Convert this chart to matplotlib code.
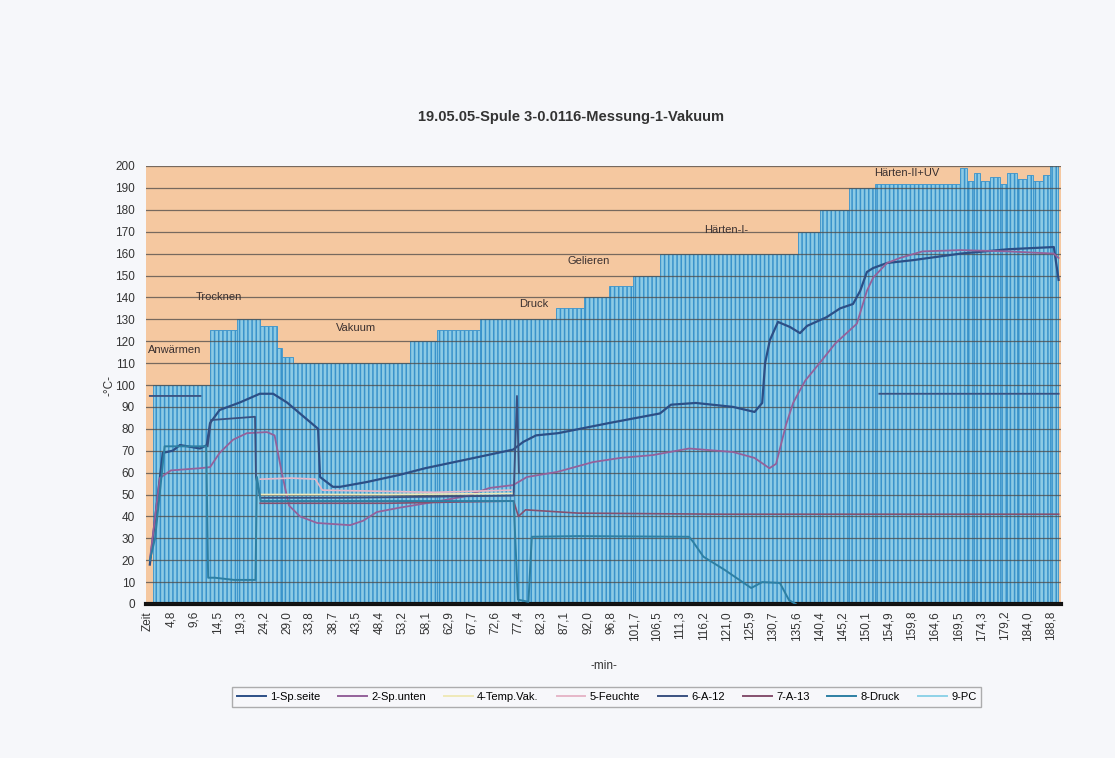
import matplotlib.pyplot as plt
import numpy as np
from matplotlib.lines import Line2D

plt.rcParams['font.family'] = ['Liberation Sans', 'DejaVu Sans']
plt.rcParams['hatch.color'] = '#3a93cb'
plt.rcParams['hatch.linewidth'] = 1.1

# 9-PC set point: start / end of each step (min) and its level (degC)
pc_start = [1.0, 13.0, 18.6, 23.4, 27.0, 28.0, 30.3, 54.8, 60.5, 69.5, 85.4, 91.2, 96.4,
            101.5, 107.1, 136.0, 140.6, 146.7, 152.0, 169.9, 171.3, 172.7, 174.1, 176.2,
            178.2, 179.6, 181.7, 183.8, 185.2, 187.3, 188.7]
pc_end = [13.0, 18.6, 23.4, 27.0, 28.0, 30.3, 54.8, 60.5, 69.5, 85.4, 91.2, 96.4, 101.5,
          107.1, 136.0, 140.6, 146.7, 152.0, 169.9, 171.3, 172.7, 174.1, 176.2, 178.2,
          179.6, 181.7, 183.8, 185.2, 187.3, 188.7, 190.3]
pc_level = [100, 125, 130, 127, 117, 113, 110, 120, 125, 130, 135, 140, 145,
            150, 160, 170, 180, 190, 192, 199, 193, 197, 193, 195,
            192, 197, 194, 196, 193, 196, 201]

# 1-Sp.seite
t1 = [0.4, 3.1, 5.2, 6.7, 10.9, 12.3, 13.0, 15.0, 19.2, 23.4, 26.2, 29.1, 31.8, 35.6, 36.0,
      38.7, 40.2, 45.8, 52.7, 58.0, 66.7, 76.4, 78.5, 81.2, 85.8, 96.4, 107.1, 109.4, 114.6,
      122.4, 126.9, 128.5, 129.1, 130.1, 131.8, 134.3, 136.4, 137.9, 142.0, 144.8, 147.5,
      149.0, 150.4, 151.7, 154.6, 160.0, 170.0, 180.0, 189.5, 190.5]
v1 = [18, 69, 70, 72.6, 71, 72.5, 82.6, 88.6, 92, 96, 96, 92, 87, 80, 58,
      53.5, 53.5, 55.7, 59, 62, 66, 70.5, 74, 77, 78, 82.6, 87, 91, 91.8,
      90, 87.7, 91.8, 110, 120.5, 128.8, 126.5, 123.7, 127, 131, 135, 137,
      143, 151.6, 153.4, 155.7, 157, 160, 162, 163, 148]

# 2-Sp.unten
t2 = [0.4, 2.5, 4.8, 10.9, 13.0, 15.0, 17.8, 20.7, 24.9, 26.5, 28.0, 29.5, 31.8, 35.4,
      42.3, 45.0, 47.9, 52.7, 59.6, 66.0, 71.5, 76.4, 79.3, 85.6, 93.1, 98.8, 105.6, 113.2,
      122.4, 126.9, 130.0, 131.4, 133.5, 135.0, 137.5, 140.5, 143.8, 148.3, 150.4, 151.7,
      154.6, 157.3, 162.0, 170.0, 180.0, 189.5, 190.5]
v2 = [20, 57.5, 61, 62, 62.5, 69, 75, 78, 78.5, 77, 60, 45, 40, 37,
      36, 38, 42, 44, 46.5, 49, 53, 54.3, 58, 60.3, 64.8, 66.7, 68, 71,
      69.4, 66.7, 62, 64, 82, 92, 102, 110, 119, 128, 143, 149,
      155.7, 158, 161, 161.6, 161, 160, 158]

# 4-Temp.Vak.
t4 = [23.5, 50.0, 76.5]
v4 = [50, 50, 50.5]

# 5-Feuchte
t5 = [23.5, 30.0, 35.0, 36.5, 60.0, 76.0]
v5 = [57, 57.5, 57, 52, 51, 52]

# 6-A-12 (gap between runs marked with nan)
t6 = [0.4, 11.0, 11.2, 12.5, 13.2, 22.4, 22.6, 23.5, 40.0, 60.0, 76.5, 77.2, 77.6, 77.8,
      153.0, 190.5]
v6 = [95, 95, np.nan, 72, 84, 85.5, 58, 48.5, 48.5, 49, 49.5, 95, 60, np.nan,
      96, 96]

# 7-A-13
t7 = [23.5, 50.0, 76.5, 77.5, 79.0, 90.0, 120.0, 190.5]
v7 = [46, 46, 47, 40, 43, 41.5, 41, 41]

# 8-Druck
t8 = [0.4, 1.5, 3.5, 12.2, 12.6, 14.0, 18.0, 22.5, 22.8, 23.6, 30.0, 50.0, 76.5, 77.4,
      79.6, 80.3, 90.0, 113.2, 114.0, 116.2, 120.7, 126.2, 128.5, 132.2, 134.1, 135.5]
v8 = [20, 30, 72, 72, 12, 12, 11, 11, 58, 47, 47, 47, 47, 2,
      1, 30.7, 31, 30.7, 28.5, 21.6, 15.5, 7.3, 10, 9.6, 1.8, 0]

series = [
    ('1-Sp.seite', t1, v1, '#2c4f86', 1.6),
    ('2-Sp.unten', t2, v2, '#94619a', 1.3),
    ('4-Temp.Vak.', t4, v4, '#efe9b8', 1.2),
    ('5-Feuchte', t5, v5, '#e6b7c8', 1.2),
    ('6-A-12', t6, v6, '#3a5180', 1.3),
    ('7-A-13', t7, v7, '#85506e', 1.2),
    ('8-Druck', t8, v8, '#2d7fa3', 1.4),
]

tick_labels = ['Zeit', '4,8', '9,6', '14,5', '19,3', '24,2', '29,0', '33,8', '38,7', '43,5',
               '48,4', '53,2', '58,1', '62,9', '67,7', '72,6', '77,4', '82,3', '87,1', '92,0',
               '96,8', '101,7', '106,5', '111,3', '116,2', '121,0', '125,9', '130,7', '135,6',
               '140,4', '145,2', '150,1', '154,9', '159,8', '164,6', '169,5', '174,3', '179,2',
               '184,0', '188,8']
tick_pos = [0.0 if s == 'Zeit' else float(s.replace(',', '.')) for s in tick_labels]

stages = ['Anwärmen', 'Trocknen', 'Vakuum', 'Druck', 'Gelieren', 'Härten-I-', 'Härten-II+UV']
stage_t = [5.5, 14.8, 43.5, 80.8, 92.3, 121.0, 158.8]
stage_y = [116, 140, 126, 137, 156.5, 171, 197]

fig = plt.figure(figsize=(11.15, 7.58), dpi=100, facecolor='#f6f7fa')
ax = fig.add_axes([146 / 1115, 1 - 604 / 758, 915 / 1115, 438 / 758])
ax.set_facecolor('#f5c8a0')

widths = np.array(pc_end) - np.array(pc_start)
ax.bar(pc_start, pc_level, width=widths, align='edge', color='#8dcbe5',
       edgecolor='#3a93cb', linewidth=0.6, hatch='||||', zorder=2)

for name, t, v, c, lw in series:
    ax.plot(t, v, color=c, lw=lw, zorder=3)

for s, x, y in zip(stages, stage_t, stage_y):
    ax.text(x, y, s, ha='center', va='center', fontsize=8, color='#3a3030', zorder=4)

ax.set_xlim(-0.4, 191.0)
ax.set_ylim(0, 200)
ax.set_yticks(range(0, 201, 10))
ax.set_xticks(tick_pos, tick_labels, rotation=90, fontsize=8.5)
ax.tick_params(axis='y', labelsize=8.5, length=0, pad=8, colors='#333333')
ax.tick_params(axis='x', length=0, pad=5, colors='#333333')

ax.set_axisbelow(False)
ax.grid(axis='y', color='#4d4a48', lw=0.9, alpha=0.75)
ax.grid(axis='x', visible=False)

for side in ['top', 'right', 'left']:
    ax.spines[side].set_visible(False)
ax.spines['bottom'].set_linewidth(3)
ax.spines['bottom'].set_color('#111111')

ax.set_ylabel('-°C-', fontsize=8.5, color='#333333', labelpad=0)
ax.set_xlabel('-min-', fontsize=8.5, color='#333333', labelpad=14)

fig.text(0.512, 1 - 117 / 758, '19.05.05-Spule 3-0.0116-Messung-1-Vakuum',
         ha='center', va='center', fontsize=10.5, fontweight='bold', color='#333333')

handles = [Line2D([], [], color=c, lw=1.4) for _, _, _, c, _ in series]
handles.append(Line2D([], [], color='#8fd3e8', lw=1.4))
labels = [s[0] for s in series] + ['9-PC']
fig.legend(handles, labels, loc='center', bbox_to_anchor=(0.544, 1 - 697 / 758), ncol=8,
           fontsize=8, frameon=True, fancybox=False, edgecolor='#9a9a9a',
           facecolor='#f8f8fa', handlelength=2.6, handletextpad=0.4, columnspacing=1.6,
           borderpad=0.45)

fig.savefig('out.png', dpi=100, facecolor=fig.get_facecolor())
